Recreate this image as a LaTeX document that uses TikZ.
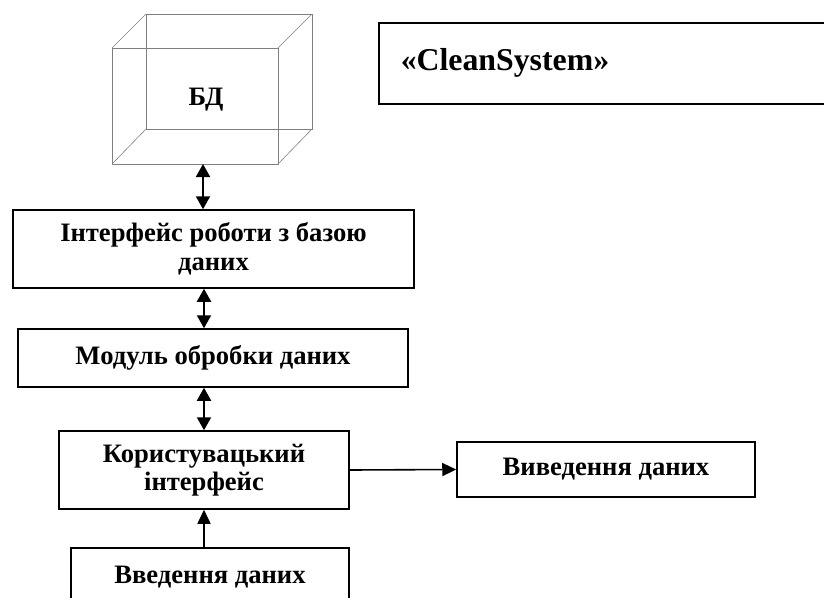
\documentclass[tikz,border=0pt]{standalone}
\usepackage{fontspec}
\setmainfont{Liberation Serif}
\usetikzlibrary{positioning, calc, arrows.meta}

\begin{document}
\begin{tikzpicture}[x=1pt, y=-1pt,
    block/.style={draw, line width=1.5pt, font=\bfseries\fontsize{26.6}{28.5}\selectfont, align=center, inner sep=0pt},
    both/.style={{Triangle[length=13pt,width=14pt]}-{Triangle[length=13pt,width=14pt]}, line width=2pt},
    flow/.style={-{Triangle[length=14pt,width=13pt]}, line width=1.6pt}]
    % page frame
    \useasboundingbox (0,0) rectangle (824,597);
    \clip (0,0) rectangle (824,597);

    % the database cube
    \draw [gray, line width=0.6pt] (112,48) rectangle (278,164);
    \draw [gray, line width=0.6pt] (146,14) rectangle (312,129);
    \draw [gray, line width=0.6pt] (112,48) -- (146,14) (278,48) -- (312,14)
        (112,164) -- (146,129) (278,164) -- (312,129);
    \node[font=\bfseries\fontsize{26.6}{28.5}\selectfont] (db) at (206,100) {БД};
    \coordinate (dbbase) at (203,164);

    % system name
    \node[draw, line width=1.5pt, anchor=north west, minimum height=81pt, text width=436pt,
        inner xsep=22pt, align=left, font=\bfseries\fontsize{31.8}{36}\selectfont] (sys) at (378,22) {«CleanSystem»};

    % the layers
    \node[block, minimum width=401pt, minimum height=78pt] (iface) at (213.5,249) {Інтерфейс роботи з базою\\даних};
    \node[block, minimum width=390pt, minimum height=58pt] (module) at (213,358) {Модуль обробки даних};
    \node[block, minimum width=290pt, minimum height=78pt] (ui) at (204,470) {Користувацький\\інтерфейс};
    \node[block, minimum width=298pt, minimum height=55pt] (output) at (606,469.5) {Виведення даних};
    \node[block, minimum width=278pt, minimum height=58pt] (input) at (210,577) {Введення даних};

    % connections
    \draw[both] (dbbase) -- (dbbase |- iface.north);
    \draw[both] (iface.south -| ui.north) -- (module.north -| ui.north);
    \draw[both] (module.south -| ui.north) -- (ui.north);
    \draw[flow] (input.north -| ui.south) -- (ui.south);
    \draw[flow] (ui.east) -- (output.west);
\end{tikzpicture}
\end{document}
